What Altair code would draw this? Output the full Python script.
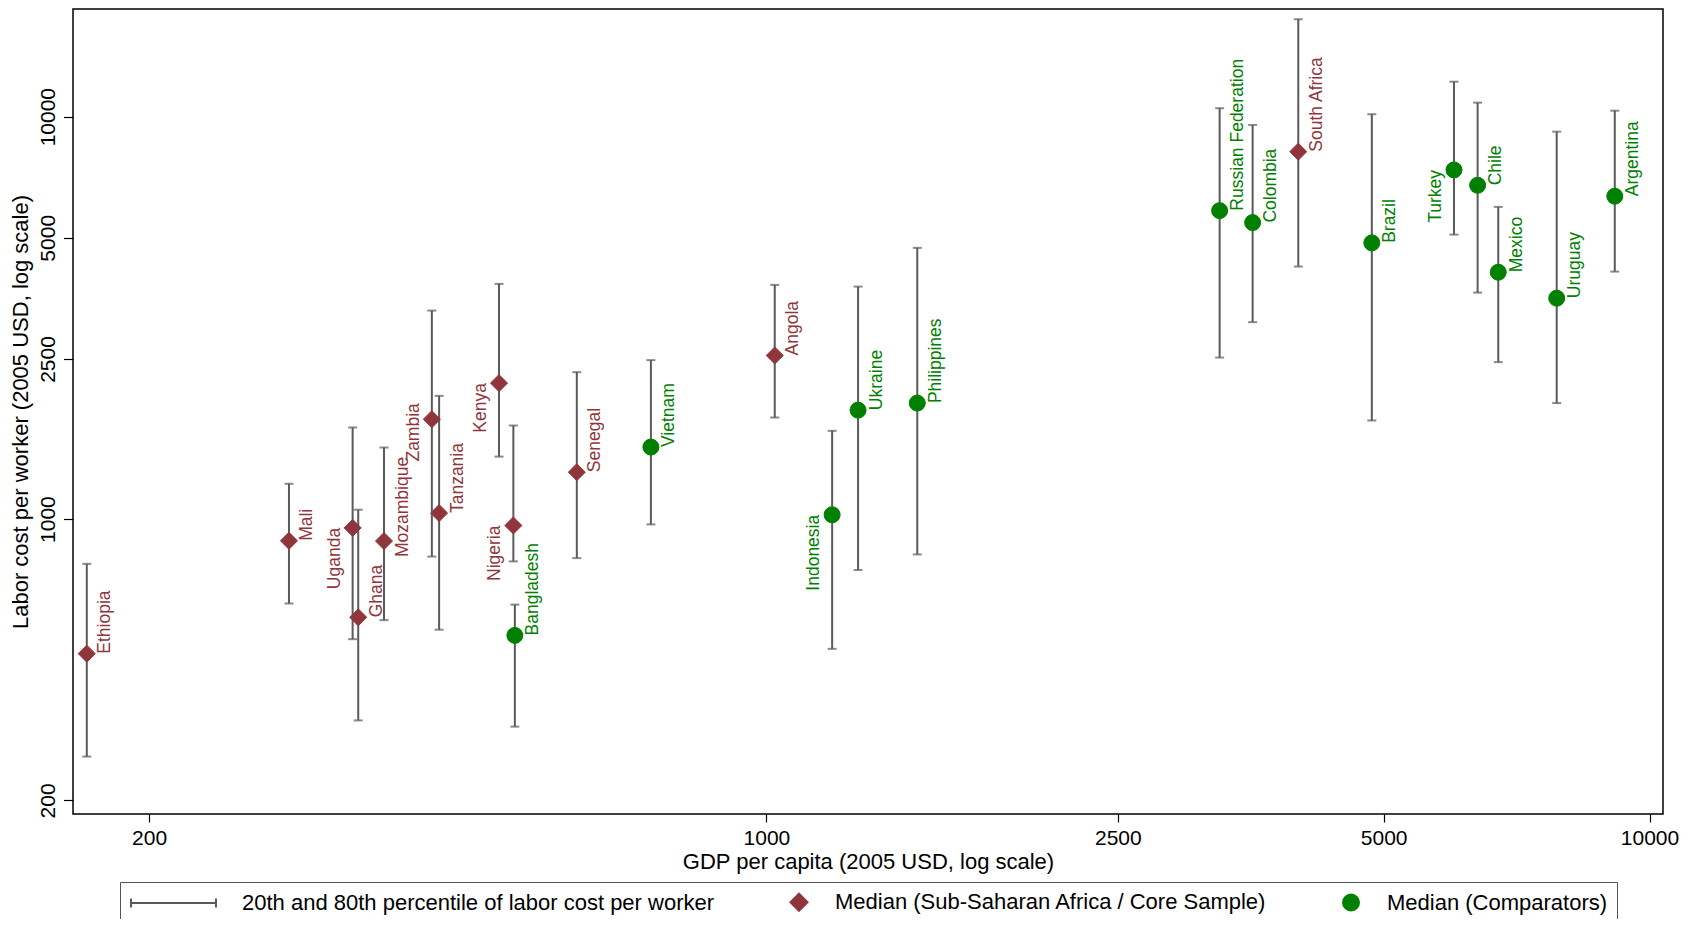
import altair as alt
import pandas as pd

countries = ["Ethiopia", "Mali", "Uganda", "Ghana", "Mozambique", "Zambia", "Tanzania",
             "Kenya", "Nigeria", "Bangladesh", "Senegal", "Vietnam", "Angola", "Indonesia",
             "Ukraine", "Philippines", "Russian Federation", "Colombia", "South Africa",
             "Brazil", "Turkey", "Chile", "Mexico", "Uruguay", "Argentina"]
ssa = ["Ethiopia", "Mali", "Uganda", "Ghana", "Mozambique", "Zambia", "Tanzania", "Kenya",
       "Nigeria", "Senegal", "Angola", "South Africa"]
gdp = [170, 288, 340, 345, 369, 418, 426, 498, 517, 519, 610, 740, 1022, 1187, 1270, 1482,
       3260, 3553, 4002, 4848, 6006, 6388, 6741, 7851, 9134]
median = [463, 883, 951, 570, 882, 1771, 1035, 2177, 964, 514, 1308, 1510, 2550, 1025, 1865,
          1942, 5841, 5454, 8185, 4857, 7372, 6753, 4106, 3539, 6343]
p20 = [257, 617, 503, 316, 561, 807, 531, 1430, 785, 305, 800, 970, 1788, 476, 747, 817,
       2520, 3086, 4242, 1758, 5092, 3654, 2455, 1942, 4121]
p80 = [774, 1224, 1689, 1055, 1506, 3297, 2024, 3841, 1708, 613, 2318, 2483, 3819, 1657,
       3782, 4720, 10494, 9537, 17458, 10140, 12215, 10834, 5967, 9178, 10349]
# Stata-style clock positions of the marker labels (3 = right, 9 = left)
label_clock = {"Uganda": 9, "Kenya": 9, "Nigeria": 9, "Indonesia": 9, "Turkey": 9,
               "Zambia": 10, "Mozambique": 4}

x_ticks = [200, 1000, 2500, 5000, 10000]
y_ticks = [200, 1000, 2500, 5000, 10000]

LEG_BAR = "20th and 80th percentile of labor cost per worker"
LEG_SSA = "Median (Sub-Saharan Africa / Core Sample)"
LEG_CMP = "Median (Comparators)"

MAROON = "#90353B"
GREEN = "#008000"
GRAY = "#5a5a5a"
FONT = "Liberation Sans"

df = pd.DataFrame({
    "country": countries,
    "gdp": gdp,
    "median": median,
    "p20": p20,
    "p80": p80,
})
df["group"] = ["SSA" if c in ssa else "CMP" for c in countries]
df["series"] = [LEG_SSA if c in ssa else LEG_CMP for c in countries]
df["clock"] = [label_clock.get(c, 3) for c in countries]

xs = alt.Scale(type="log", domain=[164, 10358], nice=False)
ys = alt.Scale(type="log", domain=[185, 18515], nice=False)

X = alt.X("gdp:Q", scale=xs,
          axis=alt.Axis(title="GDP per capita (2005 USD, log scale)", values=x_ticks,
                        format="d", tickSize=8, labelPadding=5, titlePadding=3))
Y_AX = alt.Axis(title="Labor cost per worker (2005 USD, log scale)", values=y_ticks,
                format="d", tickSize=9.5, labelAngle=270, labelAlign="center",
                labelBaseline="bottom", labelPadding=5, titlePadding=5)

base = alt.Chart(df)

bars = base.mark_rule(color=GRAY, strokeWidth=2).encode(
    x=X, y=alt.Y("p20:Q", scale=ys, axis=Y_AX), y2="p80:Q")
cap_lo = base.mark_tick(color=GRAY, orient="horizontal", size=9, thickness=2).encode(
    x=alt.X("gdp:Q", scale=xs), y=alt.Y("p20:Q", scale=ys))
cap_hi = base.mark_tick(color=GRAY, orient="horizontal", size=9, thickness=2).encode(
    x=alt.X("gdp:Q", scale=xs), y=alt.Y("p80:Q", scale=ys))

dom = [LEG_BAR, LEG_SSA, LEG_CMP]
bar_symbol = "M-8.33,0H1.11M-8.33,-0.5V0.5M1.11,-0.5V0.5"
legend = alt.Legend(title=None, orient="none", legendX=47, legendY=873,
                    direction="horizontal", labelFontSize=22, labelFont=FONT,
                    labelColor="black", labelLimit=0, strokeColor="#555555",
                    fillColor="white", padding=9, columnPadding=7, symbolOffset=66,
                    labelOffset=25, symbolStrokeWidth=2)
pts = base.mark_point(filled=True, opacity=1, strokeWidth=1).encode(
    x=alt.X("gdp:Q", scale=xs),
    y=alt.Y("median:Q", scale=ys),
    color=alt.Color("series:N", scale=alt.Scale(domain=dom, range=[GRAY, MAROON, GREEN]),
                    legend=legend),
    stroke=alt.Stroke("series:N", scale=alt.Scale(domain=dom, range=[GRAY, MAROON, GREEN]),
                      legend=legend),
    shape=alt.Shape("series:N", scale=alt.Scale(domain=dom,
                                                range=[bar_symbol, "diamond", "circle"]),
                    legend=legend),
    size=alt.Size("series:N", scale=alt.Scale(domain=dom, range=[324, 256, 160]),
                  legend=legend),
)

tcolor = alt.condition(alt.datum.group == "SSA", alt.value(MAROON), alt.value(GREEN))


def labels(clock, align, dx, dy):
    return base.transform_filter(alt.datum.clock == clock).mark_text(
        angle=270, align=align, baseline="middle", dx=dx, dy=dy,
        fontSize=17.5, font=FONT).encode(
        x=alt.X("gdp:Q", scale=xs), y=alt.Y("median:Q", scale=ys),
        text="country:N", color=tcolor)


lab3 = labels(3, "left", 0, 18.5)
lab4 = labels(4, "left", -16, 18.5)
lab9 = labels(9, "right", 0, -18)
lab10 = labels(10, "right", 16, -18)

chart = alt.layer(bars, cap_lo, cap_hi, pts, lab3, lab4, lab9, lab10).properties(
    width=1590, height=805,
    background="white",
    autosize=alt.AutoSizeParams(type="none"),
    padding={"left": 65, "top": 1, "right": 20, "bottom": 105},
).configure_view(stroke="black", strokeWidth=1.5).configure_axis(
    domain=False, grid=False, tickColor="black", tickWidth=1.2,
    labelFont=FONT, labelFontSize=21, labelColor="black",
    titleFont=FONT, titleFontSize=22, titleFontWeight="normal", titleColor="black",
)

chart.save("out.html", embed_options={"renderer": "svg", "actions": False})
